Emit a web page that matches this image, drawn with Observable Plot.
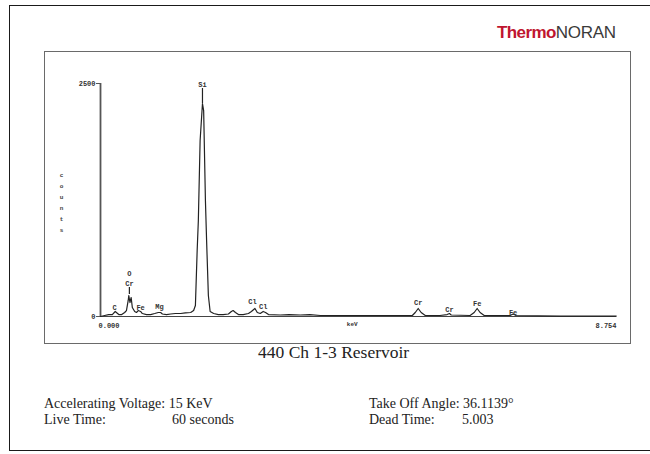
<!DOCTYPE html>
<html><head><meta charset="utf-8">
<script src="https://cdn.jsdelivr.net/npm/d3@7"></script>
<script src="https://cdn.jsdelivr.net/npm/@observablehq/plot@0.6"></script>
<style>
body{margin:0;background:#fff;}
#wrap{position:relative;width:650px;height:454px;overflow:hidden;background:#fff;}
#wrap svg{position:absolute;left:0;top:0;background:transparent;}
.outer{position:absolute;left:9px;top:5px;width:700px;height:446px;border:1.5px solid #1a1a1a;box-sizing:border-box;}
.inner{position:absolute;left:44px;top:51px;width:587px;height:293px;border:1.5px solid #6a6a6a;box-sizing:border-box;}
.logo{position:absolute;left:497px;top:23px;font-family:"Liberation Sans",Arial,sans-serif;font-size:17px;white-space:nowrap;}
.logo b{color:#c0152f;letter-spacing:-0.6px;}
.logo span{color:#3a3a3a;font-weight:normal;letter-spacing:-0.3px;}
.serif{position:absolute;font-family:"Liberation Serif","Times New Roman",serif;color:#222;white-space:nowrap;}
.ylab{position:absolute;left:58px;top:172px;font-family:"Liberation Mono",monospace;font-size:6px;font-weight:bold;color:#444;writing-mode:vertical-rl;text-orientation:upright;letter-spacing:4px;}
</style></head>
<body><div id="wrap"></div>
<script>
const spectrumKeV = [0.00,0.07,0.14,0.20,0.25,0.31,0.36,0.41,0.44,0.47,0.48,0.50,0.52,0.54,0.58,0.61,0.64,0.68,0.71,0.78,0.85,0.92,0.98,1.02,1.05,1.12,1.19,1.27,1.36,1.44,1.53,1.58,1.61,1.64,1.66,1.69,1.73,1.75,1.78,1.80,1.83,1.86,1.92,2.00,2.08,2.17,2.22,2.25,2.29,2.34,2.42,2.51,2.56,2.62,2.66,2.71,2.76,2.80,2.85,3.05,3.20,3.39,3.55,3.73,4.07,4.41,4.75,5.08,5.29,5.34,5.39,5.44,5.51,5.76,5.88,5.92,5.95,6.27,6.34,6.39,6.44,6.51,6.95,7.00,7.05,7.80,8.75];
const spectrumCounts = [0,11,21,21,54,21,21,43,64,172,225,150,204,97,54,43,64,54,32,21,21,32,43,43,27,21,27,32,32,38,43,64,118,708,1030,1888,2285,2210,1245,815,225,54,32,21,21,27,54,64,43,21,21,32,54,86,43,32,54,43,21,16,21,16,21,11,11,11,11,11,11,43,86,43,11,11,21,32,16,11,43,86,43,11,11,27,11,5,5];

const peakNames = ["C","O","Cr","Fe","Mg","Si","Cl","Cl","Cr","Cr","Fe","Fe"];
const peakLabelKeV = [0.24,0.49,0.49,0.68,1.00,1.73,2.58,2.76,5.39,5.92,6.39,7.00];
const peakLabelCounts = [91,456,354,97,107,2489,161,107,150,75,140,43];

const leaderKeV = [1.73,0.49];
const leaderTop = [2446,311];
const leaderBottom = [2285,236];

const yTicks = [0,2500];
const xTickValues = [0,8.754];
const xTickLabels = ["0.000","8.754"];
const xAxisTitle = "keV";
const xAxisTitleKeV = 4.27;

const spectrum = spectrumKeV.map((k,i)=>({keV:k,counts:spectrumCounts[i]}));
const peaks = peakNames.map((n,i)=>({name:n,keV:peakLabelKeV[i],counts:peakLabelCounts[i]}));
const leaders = leaderKeV.map((k,i)=>({keV:k,top:leaderTop[i],bottom:leaderBottom[i]}));
const xTicks = xTickValues.map((v,i)=>({v,label:xTickLabels[i]}));

const small = {fontFamily:"Liberation Mono, monospace", fontSize:7, fontWeight:"bold", fill:"#333"};

const chart = Plot.plot({
  width:650, height:454,
  marginLeft:100, marginRight:34, marginTop:83, marginBottom:138,
  x:{domain:[0,8.754], axis:null},
  y:{domain:[0,2500], axis:null},
  style:{background:"transparent", overflow:"visible"},
  marks:[
    Plot.ruleX([0],{y1:0,y2:2500,stroke:"#555",strokeWidth:1.8}),
    Plot.axisY({ticks:yTicks, tickSize:4, tickPadding:1, tickFormat:d=>String(d), label:null, stroke:"#555", ...small}),
    Plot.ruleY([0],{x1:0,x2:8.754,stroke:"#444",strokeWidth:1}),
    Plot.line(spectrum,{x:"keV",y:"counts",stroke:"#222",strokeWidth:1.2}),
    Plot.ruleX(leaders,{x:"keV",y1:"top",y2:"bottom",stroke:"#222",strokeWidth:1.2}),
    Plot.text(peaks,{x:"keV",y:"counts",text:"name",...small}),
    Plot.text(xTicks.slice(0,1),{x:"v",y:()=>0,text:"label",textAnchor:"start",dy:9,dx:-2,...small}),
    Plot.text(xTicks.slice(1),{x:"v",y:()=>0,text:"label",textAnchor:"end",dy:9,...small}),
    Plot.text([xAxisTitle],{x:()=>xAxisTitleKeV,y:()=>0,text:d=>d,dy:8,...small,fontSize:6})
  ]
});

const wrap = document.getElementById("wrap");
wrap.appendChild(chart);
wrap.insertAdjacentHTML("beforeend", `
<div class="outer"></div>
<div class="inner"></div>
<div class="logo"><b>Thermo</b><span>NORAN</span></div>
<div class="ylab">counts</div>
<div class="serif" style="left:258px;top:342px;font-size:17.5px;">440 Ch 1-3 Reservoir</div>
<div class="serif" style="left:44px;top:396px;font-size:14px;">Accelerating Voltage: 15 KeV</div>
<div class="serif" style="left:44px;top:412px;font-size:14px;">Live Time:</div>
<div class="serif" style="left:172px;top:412px;font-size:14px;">60 seconds</div>
<div class="serif" style="left:369px;top:396px;font-size:14px;">Take Off Angle: 36.1139°</div>
<div class="serif" style="left:369px;top:412px;font-size:14px;">Dead Time:</div>
<div class="serif" style="left:462px;top:412px;font-size:14px;">5.003</div>
`);
</script>
</body></html>
